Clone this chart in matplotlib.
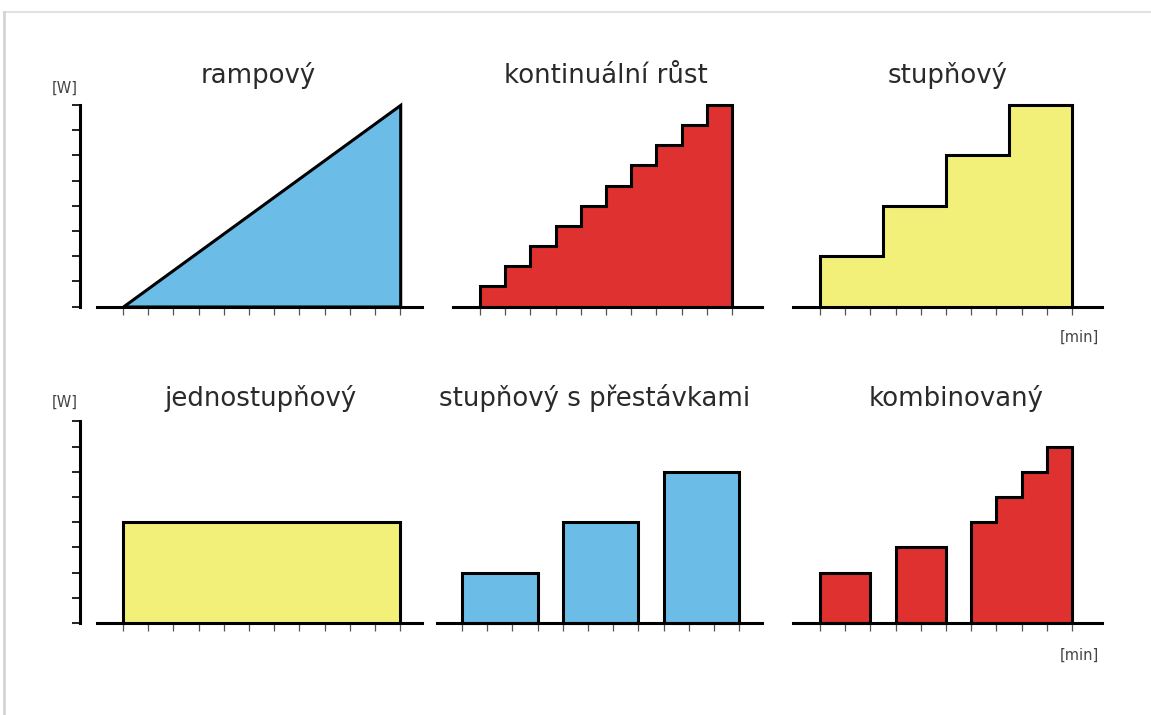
import matplotlib.pyplot as plt
from matplotlib.lines import Line2D

W, H = 1151, 715
U = 25.2  # pixels per data unit (both axes)

blue = "#6bbde8"
red = "#de3130"
yellow = "#f3f07a"

# --- data ---
titles = ["rampový", "kontinuální růst", "stupňový",
          "jednostupňový", "stupňový s přestávkami", "kombinovaný"]

ramp_x = [0, 11]
ramp_y = [0, 8]

cont_edges = [0, 1, 2, 3, 4, 5, 6, 7, 8, 9, 10]
cont_levels = [0.8, 1.6, 2.4, 3.2, 4.0, 4.8, 5.6, 6.4, 7.2, 8.0]

step_edges = [0, 2.5, 5, 7.5, 10]
step_levels = [2, 4, 6, 8]

single_edges = [0, 11]
single_levels = [4]

pause_starts = [0, 4, 8]
pause_widths = [3, 3, 3]
pause_levels = [2, 4, 6]

comb_starts = [0, 3]
comb_widths = [2, 2]
comb_levels = [2, 3]
comb_edges = [6, 7, 8, 9, 10]
comb_stair_levels = [4, 5, 6, 7]

fig = plt.figure(figsize=(W / 100, H / 100), dpi=100)
fig.patch.set_facecolor("white")

LW = 2.2


def panel(x0, y0, left, right, nticks, yaxis=False):
    # x0, y0: pixel position of the data origin, measured from top-left
    ax_left = 76 if yaxis else left
    ymin, ymax = -0.4, 8.4
    bottom_px = y0 - ymin * U
    top_px = y0 - ymax * U
    ax = fig.add_axes([ax_left / W, 1 - bottom_px / H,
                       (right - ax_left) / W, (bottom_px - top_px) / H])
    ax.set_xlim((ax_left - x0) / U, (right - x0) / U)
    ax.set_ylim(ymin, ymax)
    ax.patch.set_visible(False)
    ax.spines["top"].set_visible(False)
    ax.spines["right"].set_visible(False)
    ax.spines["bottom"].set_position(("data", 0))
    ax.spines["bottom"].set_bounds((left - x0) / U, (right - x0) / U)
    ax.spines["bottom"].set_linewidth(LW)
    ax.set_xticks(range(nticks))
    ax.set_xticklabels([])
    ax.tick_params(axis="x", direction="out", length=6, width=0.9, color="#555555")
    if yaxis:
        ax.spines["left"].set_position(("data", (80 - x0) / U))
        ax.spines["left"].set_bounds(0, 8)
        ax.spines["left"].set_linewidth(LW)
        ax.set_yticks(range(9))
        ax.set_yticklabels([])
        ax.tick_params(axis="y", direction="out", length=6, width=1.4, color="#222222")
    else:
        ax.spines["left"].set_visible(False)
        ax.set_yticks([])
    return ax


style = dict(edgecolor="black", linewidth=LW, joinstyle="miter")

# top row
ax1 = panel(123, 306.5, 97, 422, 12, yaxis=True)
ax1.fill_between(ramp_x, ramp_y, facecolor=blue, **style)

ax2 = panel(480, 306.5, 453, 762, 11)
ax2.stairs(cont_levels, cont_edges, fill=True, facecolor=red, **style)

ax3 = panel(820, 306.5, 793, 1102, 11)
ax3.stairs(step_levels, step_edges, fill=True, facecolor=yellow, **style)

# bottom row
ax4 = panel(123, 623, 97, 422, 12, yaxis=True)
ax4.stairs(single_levels, single_edges, fill=True, facecolor=yellow, **style)

ax5 = panel(462, 623, 437, 762, 12)
ax5.bar(pause_starts, pause_levels, width=pause_widths, align="edge",
        facecolor=blue, **style)

ax6 = panel(820, 623, 793, 1102, 11)
ax6.bar(comb_starts, comb_levels, width=comb_widths, align="edge",
        facecolor=red, **style)
ax6.stairs(comb_stair_levels, comb_edges, fill=True, facecolor=red, **style)

# titles
title_pos = [(258.5, 83), (605.5, 83), (947.5, 83),
             (260.5, 406.5), (595, 406.5), (956.5, 406.5)]
for t, (x, y) in zip(titles, title_pos):
    fig.text(x / W, 1 - y / H, t, ha="center", va="baseline",
             fontsize=18.7, color="#2a2a2a", family="DejaVu Sans")

# unit labels
for y in [88, 402.5]:
    fig.text(64.5 / W, 1 - y / H, "[W]", ha="center", va="center",
             fontsize=10.5, color="#444444")
for y in [337.5, 655]:
    fig.text(1079 / W, 1 - y / H, "[min]", ha="center", va="center",
             fontsize=10.5, color="#444444")

# light frame of the screenshot
fig.add_artist(Line2D([4 / W, 1], [1 - 12 / H, 1 - 12 / H], color="#e2e2e2",
                      lw=1.5, transform=fig.transFigure))
fig.add_artist(Line2D([4 / W, 4 / W], [0, 1 - 12 / H], color="#d4d4d4",
                      lw=2.0, transform=fig.transFigure))

fig.savefig("out.png", dpi=100)
